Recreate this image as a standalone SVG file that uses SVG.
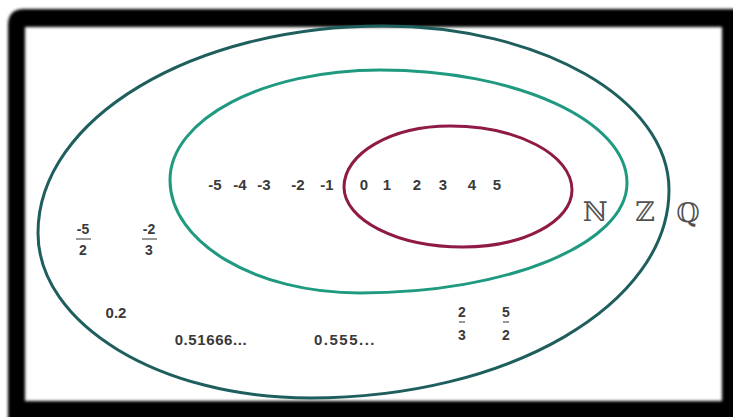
<svg xmlns="http://www.w3.org/2000/svg" width="733" height="417" viewBox="0 0 733 417">
  <defs>
    <filter id="soft" x="-5%" y="-5%" width="110%" height="110%">
      <feGaussianBlur stdDeviation="1.8"/>
    </filter>
    <style>
      .set { fill: none; stroke-width: 3; }
      .num { font-family: "Liberation Sans", Arial, sans-serif; font-size: 15px; font-weight: bold; fill: #3a3a3a; text-anchor: middle; }
      .frac { font-family: "Liberation Sans", Arial, sans-serif; font-size: 14px; font-weight: bold; fill: #3a3a3a; text-anchor: middle; }
      .bar { stroke: #555; stroke-width: 1.2; }
      .lbl { font-family: "DejaVu Serif", "Liberation Serif", serif; font-size: 27px; fill: #505050; text-anchor: middle; }
    </style>
  </defs>

  <rect x="0" y="0" width="733" height="417" fill="#ffffff"/>

  <g id="frame" filter="url(#soft)">
    <path fill="#000000" fill-rule="evenodd" d="M24,9 H745 V430 H8 V25 Q8,9 24,9 Z M25,27 V401 H722 V27 Z"/>
  </g>

  <g id="set-Q">
    <path class="set" stroke="#1e5f5e" d="M383,26 C541,26 669,99.4 669,190 C669,304.9 508.3,398 310,398 C159.8,398 38,324.1 38,233 C38,118.7 192.5,26 383,26 Z"/>
    <text class="lbl" x="688" y="222">ℚ</text>
  </g>

  <g id="set-Z">
    <path class="set" stroke="#1f9a80" d="M380,70 C516.4,70 627,120.6 627,183 C627,243.8 507.5,293 360,293 C255.1,293 170,242.4 170,180 C170,119.2 264,70 380,70 Z"/>
    <text class="lbl" x="645" y="221">ℤ</text>
  </g>

  <g id="set-N">
    <path class="set" stroke="#8e1a45" d="M450,126 C517.4,126 572,154.7 572,190 C572,221.5 523.2,247 463,247 C397.3,247 344,220.1 344,187 C344,153.3 391.5,126 450,126 Z"/>
    <text class="lbl" x="595" y="221">ℕ</text>
  </g>

  <g id="integers">
    <text class="num" x="215" y="190">-5</text>
    <text class="num" x="240" y="190">-4</text>
    <text class="num" x="264" y="190">-3</text>
    <text class="num" x="298" y="190">-2</text>
    <text class="num" x="327" y="190">-1</text>
    <text class="num" x="364" y="190">0</text>
    <text class="num" x="387" y="190">1</text>
    <text class="num" x="417" y="190">2</text>
    <text class="num" x="443" y="190">3</text>
    <text class="num" x="472" y="190">4</text>
    <text class="num" x="497" y="190">5</text>
  </g>

  <g id="rationals">
    <g id="frac-m5-2">
      <text class="frac" x="83" y="234">-5</text>
      <line class="bar" x1="76" y1="239" x2="91" y2="239"/>
      <text class="frac" x="83" y="255">2</text>
    </g>
    <g id="frac-m2-3">
      <text class="frac" x="149" y="234">-2</text>
      <line class="bar" x1="142" y1="239" x2="157" y2="239"/>
      <text class="frac" x="149" y="255">3</text>
    </g>
    <g id="frac-2-3">
      <text class="frac" x="462" y="317">2</text>
      <line class="bar" x1="459" y1="322" x2="465" y2="322"/>
      <text class="frac" x="462" y="340">3</text>
    </g>
    <g id="frac-5-2">
      <text class="frac" x="506" y="317">5</text>
      <line class="bar" x1="503" y1="322" x2="509" y2="322"/>
      <text class="frac" x="506" y="340">2</text>
    </g>
    <text class="num" x="116" y="318">0.2</text>
    <text class="num" x="211" y="345" letter-spacing="0.6">0.51666...</text>
    <text class="num" x="345" y="345" letter-spacing="1.5">0.555...</text>
  </g>
</svg>
